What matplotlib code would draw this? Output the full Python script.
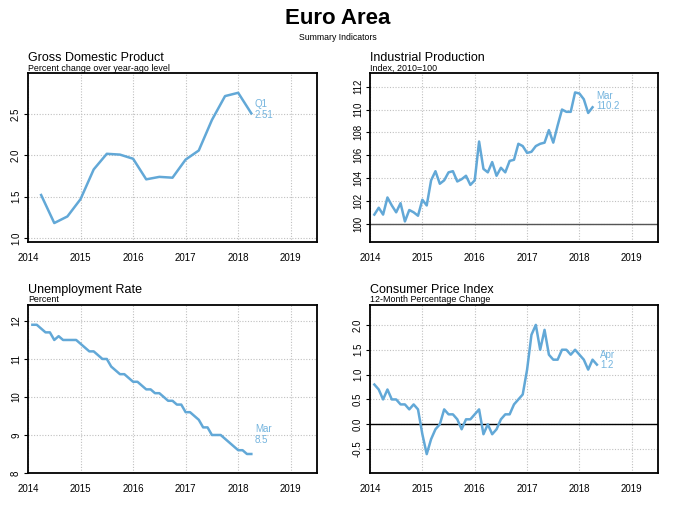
import numpy as np
import matplotlib
matplotlib.use("Agg")
import matplotlib.pyplot as plt

plt.rcParams['font.family'] = ['Liberation Sans', 'DejaVu Sans']

# ---------------- data ----------------
gdp_start = 2014.25  # quarterly, Q1 2014 plotted at 2014.25
gdp = [1.52, 1.18, 1.26, 1.47, 1.83, 2.02, 2.01, 1.96, 1.71, 1.74, 1.73,
       1.95, 2.06, 2.43, 2.72, 2.76, 2.51]

ip = [100.8, 101.4, 100.8, 102.3, 101.6, 101.0, 101.8, 100.2, 101.2, 101.0, 100.7, 102.1,
      101.6, 103.8, 104.6, 103.5, 103.8, 104.5, 104.6, 103.7, 103.9, 104.2, 103.4, 103.8,
      107.2, 104.8, 104.5, 105.4, 104.2, 104.9, 104.5, 105.5, 105.6, 107.0, 106.8, 106.2,
      106.3, 106.8, 107.0, 107.1, 108.2, 107.1, 108.6, 110.0, 109.8, 109.8, 111.5, 111.4,
      110.9, 109.7, 110.2]

unemp = [11.9, 11.9, 11.8, 11.7, 11.7, 11.5, 11.6, 11.5, 11.5, 11.5, 11.5, 11.4,
         11.3, 11.2, 11.2, 11.1, 11.0, 11.0, 10.8, 10.7, 10.6, 10.6, 10.5, 10.4,
         10.4, 10.3, 10.2, 10.2, 10.1, 10.1, 10.0, 9.9, 9.9, 9.8, 9.8, 9.6,
         9.6, 9.5, 9.4, 9.2, 9.2, 9.0, 9.0, 9.0, 8.9, 8.8, 8.7, 8.6,
         8.6, 8.5, 8.5]

cpi = [0.8, 0.7, 0.5, 0.7, 0.5, 0.5, 0.4, 0.4, 0.3, 0.4, 0.3, -0.2,
       -0.6, -0.3, -0.1, 0.0, 0.3, 0.2, 0.2, 0.1, -0.1, 0.1, 0.1, 0.2,
       0.3, -0.2, 0.0, -0.2, -0.1, 0.1, 0.2, 0.2, 0.4, 0.5, 0.6, 1.1,
       1.8, 2.0, 1.5, 1.9, 1.4, 1.3, 1.3, 1.5, 1.5, 1.4, 1.5, 1.4,
       1.3, 1.1, 1.3, 1.2]

years = [2014, 2015, 2016, 2017, 2018, 2019]

panels = [
    dict(title="Gross Domestic Product", sub="Percent change over year-ago level",
         values=gdp, step=0.25, start=gdp_start, ylim=(0.95, 3.0),
         yticks=[1.0, 1.5, 2.0, 2.5], yfmt="{:.1f}", ref=None,
         label=("Q1", "2.51"), lab_x=2018.32, lab_y=(2.62, 2.49)),
    dict(title="Industrial Production", sub="Index, 2010=100",
         values=ip, step=1/12, start=2014 + 1/12, ylim=(98.4, 113.2),
         yticks=[100, 102, 104, 106, 108, 110, 112], yfmt="{:.0f}", ref=(100, '#555555'),
         label=("Mar", "110.2"), lab_x=2018.32, lab_y=(111.2, 110.3)),
    dict(title="Unemployment Rate", sub="Percent",
         values=unemp, step=1/12, start=2014 + 1/12, ylim=(8.0, 12.42),
         yticks=[8, 9, 10, 11, 12], yfmt="{:.0f}", ref=None,
         label=("Mar", "8.5"), lab_x=2018.32, lab_y=(9.15, 8.88)),
    dict(title="Consumer Price Index", sub="12-Month Percentage Change",
         values=cpi, step=1/12, start=2014 + 1/12, ylim=(-0.98, 2.4),
         yticks=[-0.5, 0.0, 0.5, 1.0, 1.5, 2.0], yfmt="{:.1f}", ref=(0, 'black'),
         label=("Apr", "1.2"), lab_x=2018.4, lab_y=(1.4, 1.2)),
]

W, H = 676, 507
fig = plt.figure(figsize=(W / 100, H / 100), dpi=100)

fig.text(0.5, 1 - 18 / H, "Euro Area", ha='center', va='center',
         fontsize=16, fontweight='bold')
fig.text(0.5, 1 - 37 / H, "Summary Indicators", ha='center', va='center', fontsize=6.3)

boxes = [(28, 317, 73, 242), (370, 658, 73, 242),
         (28, 317, 305, 473), (370, 658, 305, 473)]

line_color = '#62a8d7'
text_color = '#74b4de'

for p, (x0, x1, y0, y1) in zip(panels, boxes):
    ax = fig.add_axes([x0 / W, 1 - y1 / H, (x1 - x0) / W, (y1 - y0) / H])
    xs = p['start'] + np.arange(len(p['values'])) * p['step']
    ax.set_xlim(2014, 2019.5)
    ax.set_ylim(*p['ylim'])
    for yr in years:
        ax.axvline(yr, color='#c0c0c0', lw=0.8, ls=(0, (1, 1.5)), zorder=0)
    for yt in p['yticks']:
        ax.axhline(yt, color='#c0c0c0', lw=0.8, ls=(0, (1, 1.5)), zorder=0)
    if p['ref'] is not None:
        ax.axhline(p['ref'][0], color=p['ref'][1], lw=1.0, zorder=1)
    ax.plot(xs, p['values'], color=line_color, lw=1.8, zorder=3,
            solid_joinstyle='round')
    ax.text(p['lab_x'], p['lab_y'][0], p['label'][0], color=text_color,
            fontsize=7, va='center', ha='left')
    ax.text(p['lab_x'], p['lab_y'][1], p['label'][1], color=text_color,
            fontsize=7, va='center', ha='left')

    ax.set_xticks(years)
    ax.set_xticklabels([str(y) for y in years], fontsize=7)
    ax.tick_params(axis='x', length=0, pad=8)
    ax.set_yticks(p['yticks'])
    ax.set_yticklabels([p['yfmt'].format(v) for v in p['yticks']],
                       fontsize=7, rotation=90, va='center')
    ax.tick_params(axis='y', length=3, width=0.8, pad=2, direction='out')
    for s in ax.spines.values():
        s.set_linewidth(1.3)
        s.set_color('black')

    ax.text(0, 1 + 15 / (y1 - y0), p['title'], transform=ax.transAxes,
            fontsize=9, ha='left', va='center')
    ax.text(0, 1 + 5 / (y1 - y0), p['sub'], transform=ax.transAxes,
            fontsize=6.4, ha='left', va='center')

fig.savefig("out.png", dpi=100)
